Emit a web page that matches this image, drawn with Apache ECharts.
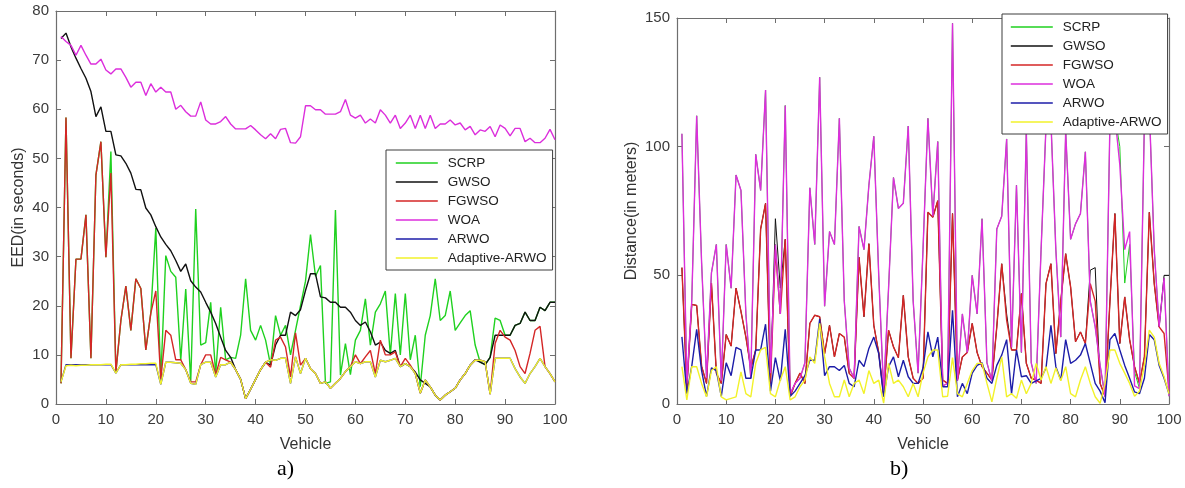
<!DOCTYPE html>
<html>
<head>
<meta charset="utf-8">
<script src="https://cdn.jsdelivr.net/npm/echarts@6/dist/echarts.min.js"></script>
<style>
html,body{margin:0;padding:0;background:#fff;}
#c{width:1185px;height:488px;}
</style>
</head>
<body>
<div id="c"></div>
<script>
// Vehicle index (x axis)
const vehicles = Array.from({length: 100}, (_, i) => i + 1);
const seriesNames = ['SCRP', 'GWSO', 'FGWSO', 'WOA', 'ARWO', 'Adaptive-ARWO'];

// ---- Panel a) EED (in seconds) ----
const eedSCRP = [4.2,58.3,9.3,29.5,29.5,38.5,9.3,46.6,53.4,29.9,
  51.4,6.5,17,24,15,25.5,23.5,11,18.5,35.8,
  5,30.2,27,25.8,8.9,23.4,4.5,39.7,12,12.5,
  20.7,6.2,19.7,9,9.5,9.3,14,25.5,15,13,
  16,13,7.9,18,14,16,10,15,20,25,
  34.5,26,28.2,4.2,4.5,39.5,5.9,12.3,6,13,
  15,21.4,12,18.7,20.4,23,10,22.5,10,22.5,
  9,14,3.5,14,18,25.5,17,18,23,15,
  16.5,18,19,12,8.5,8,9.5,17.5,17,14,
  14,16,16.4,18.7,17,17,19.7,19,20.7,20.7];
const eedGWSO = [74.4,75.5,72.7,70.4,68.3,66.3,63.6,58.5,60.5,55.5,
  55.5,50.7,50.5,49,47,43.7,43.6,39.9,38.5,36.1,
  34,32.5,31.2,29.2,27,28.5,25.1,23.8,22.8,20.7,
  18.7,16.4,13.6,10.9,9.5,7,5,1.1,3,5,
  7,8.5,7.9,12,14,14,18.7,18,19.2,23.1,
  26.5,26.5,21.8,21.6,20.7,20.7,19.7,19.7,18.7,17,
  16,16.7,14.7,12,12.6,10.9,10.3,10.9,7.6,8.2,
  7.6,6.5,4.9,4.2,3.5,1.8,0.8,1.8,2.5,3.2,
  4.9,6.2,7.9,9,8.5,8,9.5,14,14,14,
  14,16,16.4,18.7,17,17,19.7,19,20.7,20.7];
const eedFGWSO = [4.2,58.3,9.3,29.5,29.5,38.5,9.3,46.6,53.4,29.9,
  47,6.5,17,24,15,25.5,23.5,11,18.5,23,
  5,15,14,9,9,7,4.5,4.5,8,10,
  10,6,9.5,9,8.5,7,5,1.1,3,5,
  7,8.5,7.5,13,13.6,11.6,5.5,14.5,7.9,9.3,
  7.2,6.2,4.2,4.5,3.2,4.2,5.2,6.6,7.6,10,
  8.2,9.6,10.9,6.2,13,10,10,10.6,7.6,9.3,
  7.9,6.2,2.2,4.9,3.5,1.8,0.8,1.8,2.5,3.2,
  4.9,6.2,7.9,8.9,8.9,8.6,2,12.3,15,13.6,
  13,10.9,7.6,6.2,10.3,15,15.8,7.6,6.2,4.5];
const eedWOA = [74.8,73.8,73,71,73,71,69.2,69.2,70.2,68,
  67.2,68.2,68.2,66.5,64.5,65.5,65.5,62.8,65.2,63.5,
  64.5,63.5,63.5,60,60.8,59.5,58.6,58.6,61.5,57.8,
  57,57,57.5,58.5,57,56,56,56,56.7,55.8,
  54.8,54,55,54,55.9,56.1,53.2,53.1,54.4,60.7,
  60.7,59.9,59.9,59,59,59,59.5,62,58.8,58.2,
  58.8,57.2,58,57.2,59.9,58.8,57.2,58.8,56.1,57.2,
  58.8,56.1,58.8,56.1,58.8,56.1,57,57,57.8,56.8,
  57.2,55.8,56.5,54.8,55.8,55.5,56.5,54.4,56.8,56.1,
  54.6,56.1,56.1,53.4,54.1,53.2,53.2,54.1,55.9,53.8];
const eedARWO = [4.5,8,8,8,8,8,8,8,8,8,
  8,6.3,8,8,8,8,8,8,8,8,
  4,8.5,8.5,8.4,8.3,7,4.2,4,8,8.5,
  8.5,5.5,8,8,8.5,7,5,1.1,3,5,
  7,8.5,9,8.9,9.3,9.3,4.2,9.6,6.2,9.3,
  7.2,6.2,4.2,4.5,3.2,4.2,5.2,6.6,7.6,8.6,
  8.2,8.6,8.6,5.5,8.9,8.6,8.9,9.3,7.6,8.2,
  7.6,6.2,2.2,4.9,3.5,1.8,0.8,1.8,2.5,3.2,
  4.9,6.2,7.9,8.9,8.9,8.6,2,9.3,9.3,9.3,
  9.3,7.2,5.5,4.2,6.2,7.6,9.3,7.6,6.2,4.5];
const eedAdaptive = [4.5,7.8,7.9,7.8,7.9,7.9,8,8,8,8.1,
  8.1,6.3,8,8,8.1,8.1,8.2,8.2,8.3,8.3,
  4,8.5,8.5,8.4,8.3,7,4.2,4,8,8.5,
  8.5,5.5,8,8,8.5,7,5,1.1,3,5,
  7,8.5,9,8.9,9.3,9.3,4.2,9.6,6.2,9.3,
  7.2,6.2,4.2,4.5,3.2,4.2,5.2,6.6,7.6,8.6,
  8.2,8.6,8.6,5.5,8.9,8.6,8.9,9.3,7.6,8.2,
  7.6,6.2,2.2,4.9,3.5,1.8,0.8,1.8,2.5,3.2,
  4.9,6.2,7.9,8.9,8.9,8.6,2,9.3,9.3,9.3,
  9.3,7.2,5.5,4.2,6.2,7.6,9.3,7.6,6.2,4.5];

// ---- Panel b) Distance (in meters) ----
const distSCRP = [105,8,40,112,55,10,51,62,9,62,
  45,89,83,35,10,97,83,122,12,62,
  35,116,4,8,10,16,84,62,127,38,
  67,62,111,40,14,10,69,60,85,104,
  50,5,45,88,76,78,108,40,12,60,
  111,73,102,7,8,148,9,35,20,50,
  35,72,16,9,68,73,103,22,85,20,
  106,16,8,60,108,110,60,26,106,64,
  70,74,98,40,30,15,3,110,112,100,
  47,62,12.5,6,110,115,60,30,49,3];
const distGWSO = [53,6,38.7,38.3,14.7,8,47,12,8,27,
  22.5,45,36,26,14,21,68,78,8,72,
  45,64,3,8,12,8,31.3,34.5,33.9,19.6,
  30.6,18.3,27.4,26,11.9,10,57,33.9,62.3,30.6,
  20,3.5,28.7,22.2,18,42.2,18.3,10,8,10,
  74.5,72.6,79,9.3,8,74,9.3,18.3,20,31.3,
  20,14.5,12,9.3,30,54.5,35,21,21,42.9,
  15.8,10,9.3,8,46.8,54.5,19.6,40,58.4,45.5,
  24.2,28,23.5,52,53,8,3,40,74,23.5,
  41.6,25,14.5,8,18.3,74.5,46.8,30,50,50];
const distFGWSO = [53,6,38.7,38.3,14.7,8,47,12,8,27,
  22.5,45,36,26,14,21,68,78,8,60,
  35,64,3,8,12,8,31.3,34.5,33.9,19.6,
  30.6,18.3,27.4,26,11.9,10,57,33.9,62.3,30.6,
  20,3.5,28.7,22.2,18,42.2,18.3,10,8,10,
  74.5,72.6,79,9.3,8,74,9.3,18.3,20,31.3,
  20,14.5,12,9.3,30,54.5,32.6,21,21,42.9,
  15.8,10,9.3,8,46.8,54.5,19.6,40,58.4,45.5,
  24.2,28,23.5,46.8,40,8,3,40,74,23.5,
  41.6,25,14.5,8,18.3,74.5,46.8,30,27.4,5];
const distWOA = [105,8,40,112,55,10,51,62,9,62,
  45,89,83,35,10,97,83,122,12,62,
  35,116,4,8,10,16,84,62,127,38,
  67,62,111,40,14,10,69,60,85,104,
  50,5,45,88,76,78,108,40,12,60,
  111,73,102,7,8,148,9,35,20,50,
  35,72,16,9,68,73,103,22,85,20,
  106,16,8,60,108,110,60,26,106,64,
  70,74,98,40,30,15,3,110,112,93,
  60,67,7,6,110,115,60,30,49,3];
const distARWO = [26.1,4,14.7,29,13,3,14,13,3,16,
  11,22,21,10,10,21,21,31,5,18,
  9,29,3,5,8,11,17,17,33,11,
  14.5,14.5,13,15,8,6.7,17,14.5,21.6,26,
  19.6,2.8,14.5,18.3,10.6,17,10.6,8,8,14,
  28,18.3,26,6.7,6.7,36.4,2.8,8,4,12,
  15,16,10,8,15,19,25,4,21,10.6,
  11,8,9,10,14,30.6,14.5,9.3,25,15.8,
  17,19,23.5,15.8,8,5,0.5,25,27.4,21,
  15,10,4.7,4,10,27,25,15,10,4];
const distAdaptive = [14.5,1.6,14.5,14.5,8,2.8,13,14.5,2.8,1.6,
  2.2,2.8,12.5,4,2.8,15.8,21,22,4,2.8,
  9.3,14.5,1.6,2.8,6.7,9.3,18.3,15.8,31.3,18.3,
  8,2.8,2.8,9.3,2.8,8,9.3,4,13,8,
  9.3,0.3,15.8,8,9.3,6.7,2.8,8,2.8,12,
  18.3,21,21,2.8,3,18,4,2.8,8,13,
  15.8,15.8,8,0.8,10,18.3,2.8,4,2.2,9.3,
  4,8,15.8,9.3,14.5,8,14,9,14.5,4,
  2.8,9.3,14.5,8,2.8,0.3,8,21,21,15.8,
  12,8,3,5,15,28.7,26,15.8,10.6,4];

const eedTicks = {min: 0, max: 80, interval: 10};
const distTicks = {min: 0, max: 150, interval: 50};
const vehTicks = {min: 0, max: 100, interval: 10};

const colors = ['#1fd11f', '#111111', '#d42626', '#dc2edc', '#1c1ca8', '#f2f22a'];

const panelA = [eedSCRP, eedGWSO, eedFGWSO, eedWOA, eedARWO, eedAdaptive];
const panelB = [distSCRP, distGWSO, distFGWSO, distWOA, distARWO, distAdaptive];

const axisCol = '#6e6e6e';
const font = 'Liberation Sans, Arial, sans-serif';

function xAx(grid, pos, showLabel, name) {
  return {
    type: 'value', gridIndex: grid, position: pos,
    min: vehTicks.min, max: vehTicks.max, interval: vehTicks.interval,
    name: name || '', nameLocation: 'middle', nameGap: 33,
    nameTextStyle: {fontFamily: font, fontSize: 16, color: '#333'},
    axisLine: {show: true, onZero: false, lineStyle: {color: axisCol, width: 1.2}},
    axisTick: {show: true, inside: true, length: 5, lineStyle: {color: axisCol}},
    axisLabel: {show: showLabel, fontFamily: font, fontSize: 15, color: '#3a3a3a', margin: 8},
    splitLine: {show: false}
  };
}
function yAx(grid, pos, ticks, showLabel, name, gap) {
  return {
    type: 'value', gridIndex: grid, position: pos,
    min: ticks.min, max: ticks.max, interval: ticks.interval,
    name: name || '', nameLocation: 'middle', nameGap: gap || 30,
    nameTextStyle: {fontFamily: font, fontSize: 16, color: '#333'},
    axisLine: {show: true, onZero: false, lineStyle: {color: axisCol, width: 1.2}},
    axisTick: {show: true, inside: true, length: 5, lineStyle: {color: axisCol}},
    axisLabel: {show: showLabel, fontFamily: font, fontSize: 15, color: '#3a3a3a', margin: 7},
    splitLine: {show: false}
  };
}

const series = [];
seriesNames.forEach((n, k) => {
  series.push({
    name: n, type: 'line', xAxisIndex: 0, yAxisIndex: 0,
    data: vehicles.map((v, i) => [v, panelA[k][i]]),
    symbol: 'none', showSymbol: false,
    lineStyle: {width: 1.4, color: colors[k]}, itemStyle: {color: colors[k]},
    animation: false
  });
});
seriesNames.forEach((n, k) => {
  series.push({
    name: n, type: 'line', xAxisIndex: 2, yAxisIndex: 2,
    data: vehicles.map((v, i) => [v, panelB[k][i]]),
    symbol: 'none', showSymbol: false,
    lineStyle: {width: (k < 2 ? 1.0 : 1.4), color: colors[k]}, itemStyle: {color: colors[k]},
    animation: false
  });
});

const legendBase = {
  orient: 'vertical', itemWidth: 42, itemHeight: 14, itemGap: 5,
  backgroundColor: '#ffffff', borderColor: '#3c3c3c', borderWidth: 1, borderRadius: 0,
  itemStyle: {opacity: 0},
  lineStyle: {width: 1.6},
  textStyle: {fontFamily: font, fontSize: 13.5, color: '#222', padding: [0, 0, 0, 5]},
  data: seriesNames, selectedMode: false
};

const chart = echarts.init(document.getElementById('c'), null, {renderer: 'canvas'});
chart.setOption({
  animation: false,
  backgroundColor: '#ffffff',
  grid: [
    {left: 56, right: 630, top: 11, bottom: 84},
    {left: 677, right: 16, top: 18, bottom: 84}
  ],
  xAxis: [
    xAx(0, 'bottom', true, 'Vehicle'),
    xAx(0, 'top', false),
    xAx(1, 'bottom', true, 'Vehicle'),
    xAx(1, 'top', false)
  ],
  yAxis: [
    yAx(0, 'left', eedTicks, true, 'EED(in seconds)', 29),
    yAx(0, 'right', eedTicks, false),
    yAx(1, 'left', distTicks, true, 'Distance(in meters)', 37),
    yAx(1, 'right', distTicks, false)
  ],
  legend: [
    Object.assign({}, legendBase, {left: 386, top: 150, padding: [6, 6, 5, 9]}),
    Object.assign({}, legendBase, {left: 1002, top: 14, padding: [6, 6, 5, 8]})
  ],
  graphic: [
    {type: 'text', left: 277, top: 458, style: {text: 'a)', font: '22px "Liberation Serif", "Times New Roman", serif', fill: '#000'}},
    {type: 'text', left: 890, top: 458, style: {text: 'b)', font: '22px "Liberation Serif", "Times New Roman", serif', fill: '#000'}}
  ],
  series: series
});
</script>
</body>
</html>
